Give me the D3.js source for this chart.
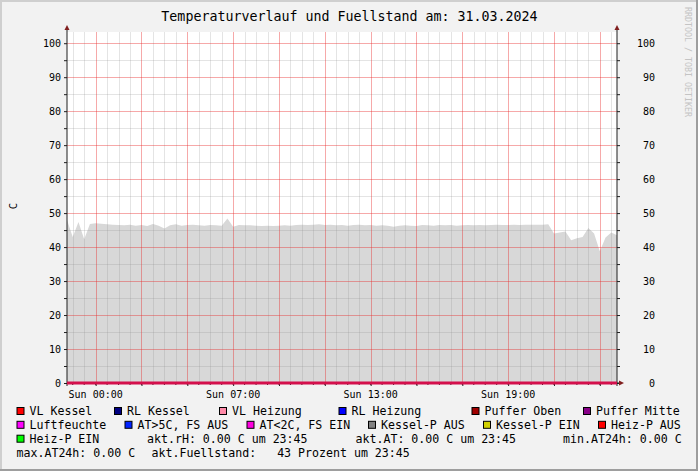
<!DOCTYPE html>
<html>
<head>
<meta charset="utf-8">
<script src="https://cdn.jsdelivr.net/npm/d3@7"></script>
<style>
  html, body { margin: 0; padding: 0; background: #f2f2f2; }
  svg { display: block; font-family: "DejaVu Sans Mono", monospace; }
  .grid line { shape-rendering: crispEdges; }
</style>
</head>
<body>
<svg id="chart"></svg>
<script>
// Fuellstand, one value every 15 minutes (22:45 Sat -> 23:45 Sun, DST day)
const fillLevel = [
  48.0, 43.0, 47.4, 42.3, 46.8, 47.0, 46.9, 46.7, 46.6, 46.5,
  46.4, 46.6, 46.3, 46.5, 46.2, 46.8, 46.3, 45.5, 46.4, 46.7,
  46.3, 46.5, 46.6, 46.4, 46.3, 46.5, 46.4, 46.3, 48.4, 46.0,
  46.5, 46.4, 46.4, 46.3, 46.2, 46.3, 46.2, 46.3, 46.4, 46.3,
  46.5, 46.6, 46.5, 46.6, 46.7, 46.5, 46.6, 46.4, 46.5, 46.3,
  46.5, 46.6, 46.4, 46.5, 46.3, 46.4, 46.3, 46.0, 46.3, 46.4,
  46.3, 46.2, 46.5, 46.4, 46.3, 46.5, 46.4, 46.5, 46.3, 46.4,
  46.5, 46.4, 46.5, 46.4, 46.5, 46.6, 46.5, 46.5, 46.6, 46.5,
  46.6, 46.6, 46.6, 46.6, 46.7, 44.0, 44.3, 44.6, 42.0, 42.6,
  43.0, 45.6, 44.0, 38.8, 42.8, 44.3, 43.5
];
const startTime = new Date("2024-03-30T21:45:00Z");
const endTime = new Date("2024-03-31T21:45:00Z");
const stepMinutes = 15;

// the temperature / pump series all sit at 0 for this day
const zeroLevel = [0, 0];

const xTickTimes = ["2024-03-30T23:00:00Z", "2024-03-31T05:00:00Z", "2024-03-31T11:00:00Z", "2024-03-31T17:00:00Z"];
const xTickLabels = ["Sun 00:00", "Sun 07:00", "Sun 13:00", "Sun 19:00"];
const yTicks = [0, 10, 20, 30, 40, 50, 60, 70, 80, 90, 100];

const seriesNames = ["VL Kessel", "RL Kessel", "VL Heizung", "RL Heizung", "Puffer Oben", "Puffer Mitte",
  "Luftfeuchte", "AT>5C, FS AUS", "AT<2C, FS EIN", "Kessel-P AUS", "Kessel-P EIN", "Heiz-P AUS", "Heiz-P EIN"];
const seriesColors = ["#ff0000", "#000080", "#ff8aa8", "#0000ff", "#a00000", "#880088",
  "#ff00ff", "#0022ff", "#ff00e0", "#808080", "#d0d000", "#ff0000", "#00ff00"];
const statTexts = ["akt.rH: 0.00 C um 23:45", "akt.AT: 0.00 C um 23:45", "min.AT24h: 0.00 C",
  "max.AT24h: 0.00 C", "akt.Fuellstand:   43 Prozent um 23:45"];

const title = "Temperaturverlauf und Fuellstand am: 31.03.2024";

// layout
const W = 698, H = 471;
const plot = { left: 67, right: 617, top: 32, bottom: 383 };
const seriesRow = [0, 0, 0, 0, 0, 0, 1, 1, 1, 1, 1, 1, 2];
const seriesX = [16.5, 114, 219, 338.5, 471.5, 583, 16.5, 124.5, 246.5, 368, 483, 598, 16.5];
const statRow = [2, 2, 2, 3, 3];
const statX = [147, 355.5, 563, 16.5, 151.5];
const rowBase = [415, 428.8, 442.7, 456.6];

const svg = d3.select("#chart").attr("width", W).attr("height", H);

// background + 3d frame
svg.append("rect").attr("width", W).attr("height", H).attr("fill", "#f2f2f2");
svg.append("path").attr("d", `M0,${H} V0 H${W}`).attr("fill", "none").attr("stroke", "#cfcfcf").attr("stroke-width", 4);
svg.append("path").attr("d", `M0,${H} H${W} V0`).attr("fill", "none").attr("stroke", "#9e9e9e").attr("stroke-width", 4);

let x = d3.scaleUtc().domain([startTime, endTime]).range([plot.left, plot.right]);
let y = d3.scaleLinear().domain([0, 103.3]).range([plot.bottom, plot.top]);

svg.append("rect")
  .attr("x", plot.left).attr("y", plot.top)
  .attr("width", plot.right - plot.left).attr("height", plot.bottom - plot.top)
  .attr("fill", "#ffffff");

// area
let area = d3.area()
  .x((d, i) => x(d3.utcMinute.offset(startTime, i * stepMinutes)))
  .y0(y(0))
  .y1(d => y(d));
svg.append("path").datum(fillLevel).attr("d", area).attr("fill", "#d8d8d8");

// grid on top
let grid = svg.append("g").attr("class", "grid");
let minorT = d3.utcMinute.every(30).range(startTime, endTime).filter(t => t > startTime);
let majorT = d3.utcHour.range(startTime, endTime).filter(t => t.getUTCHours() % 2 === 1);
let minorCol = "rgba(143,143,143,0.24)", majorCol = "rgba(232,40,40,0.4)";
grid.selectAll(".vmin").data(minorT.filter(t => t.getUTCMinutes() !== 0 || t.getUTCHours() % 2 === 0)).enter().append("line")
  .attr("x1", d => Math.round(x(d)) + 0.5).attr("x2", d => Math.round(x(d)) + 0.5)
  .attr("y1", plot.top).attr("y2", plot.bottom)
  .attr("stroke", minorCol);
let minorY = d3.range(5, 104, 5).filter(v => v % 10 !== 0);
grid.selectAll(".hmin").data(minorY).enter().append("line")
  .attr("x1", plot.left).attr("x2", plot.right)
  .attr("y1", d => Math.round(y(d)) + 0.5).attr("y2", d => Math.round(y(d)) + 0.5)
  .attr("stroke", minorCol);
grid.selectAll(".vmaj").data(majorT).enter().append("line")
  .attr("x1", d => Math.round(x(d)) + 0.5).attr("x2", d => Math.round(x(d)) + 0.5)
  .attr("y1", plot.top).attr("y2", plot.bottom)
  .attr("stroke", majorCol);
grid.selectAll(".hmaj").data(yTicks.filter(v => v > 0)).enter().append("line")
  .attr("x1", plot.left).attr("x2", plot.right)
  .attr("y1", d => Math.round(y(d)) + 0.5).attr("y2", d => Math.round(y(d)) + 0.5)
  .attr("stroke", majorCol);

// axes
let axisCol = "#1f1f1f", arrowCol = "#801f1f";
let yAxisL = d3.axisLeft(y).tickValues(d3.range(0, 104, 5)).tickSize(3).tickFormat("");
let yAxisR = d3.axisRight(y).tickValues(d3.range(0, 104, 5)).tickSize(3).tickFormat("");
let gL = svg.append("g").attr("transform", `translate(${plot.left},0)`).call(yAxisL);
let gR = svg.append("g").attr("transform", `translate(${plot.right},0)`).call(yAxisR);
[gL, gR].forEach(g => {
  g.select(".domain").remove();
  g.selectAll("line").attr("stroke", axisCol);
  g.append("line").attr("x1", 0).attr("x2", 0).attr("y1", plot.bottom + 3).attr("y2", plot.top - 3)
    .attr("stroke", axisCol);
  g.append("path").attr("d", `M-2.5,${plot.top - 2} L0,${plot.top - 7} L2.5,${plot.top - 2} Z`).attr("fill", arrowCol);
});
let xAxis = d3.axisBottom(x).tickValues(majorT).tickSize(3).tickFormat("");
let gX = svg.append("g").attr("transform", `translate(0,${plot.bottom})`).call(xAxis);
gX.select(".domain").remove();
gX.selectAll("line").attr("stroke", axisCol);
gX.selectAll(".mt").data(minorT).enter().append("line")
  .attr("x1", d => x(d)).attr("x2", d => x(d)).attr("y1", 0).attr("y2", 2).attr("stroke", axisCol);
gX.append("line").attr("x1", plot.left).attr("x2", plot.right + 3).attr("y1", 0).attr("y2", 0).attr("stroke", axisCol);
gX.append("path").attr("d", `M${plot.right + 2},-2.5 L${plot.right + 7},0 L${plot.right + 2},2.5 Z`).attr("fill", arrowCol);

// zero lines drawn over the axis like rrdtool does
svg.append("line")
  .attr("x1", x(startTime)).attr("x2", x(endTime))
  .attr("y1", y(zeroLevel[0])).attr("y2", y(zeroLevel[1]))
  .attr("stroke", "#d4104c").attr("stroke-width", 3);

// tick labels
svg.selectAll(".yl").data(yTicks).enter().append("text")
  .attr("x", 61).attr("y", d => y(d) + 3.8)
  .attr("text-anchor", "end").attr("font-size", "10px").text(d => d);
svg.selectAll(".yr").data(yTicks).enter().append("text")
  .attr("x", 655).attr("y", d => y(d) + 3.8)
  .attr("text-anchor", "end").attr("font-size", "10px").text(d => d);
svg.selectAll(".xl").data(xTickTimes).enter().append("text")
  .attr("x", d => x(new Date(d))).attr("y", 397.7)
  .attr("text-anchor", "middle").attr("font-size", "10px")
  .text((d, i) => xTickLabels[i]);

// title, unit, watermark
svg.append("text").attr("x", 349.5).attr("y", 21).attr("text-anchor", "middle")
  .attr("font-size", "13.3px").text(title);
svg.append("text").attr("transform", "translate(17,206) rotate(-90)").attr("text-anchor", "middle")
  .attr("font-size", "10.5px").text("C");
svg.append("text").attr("transform", "translate(685,7) rotate(90)").attr("text-anchor", "start")
  .attr("font-size", "8.3px").attr("fill", "#c4c4c4").text("RRDTOOL / TOBI OETIKER");

// legend
let leg = svg.append("g").attr("font-size", "11.6px");
seriesNames.forEach((name, i) => {
  let bx = seriesX[i], by = rowBase[seriesRow[i]];
  leg.append("rect").attr("x", bx + 0.5).attr("y", by - 7.5).attr("width", 7).attr("height", 7)
    .attr("fill", seriesColors[i]).attr("stroke", "#000").attr("stroke-width", 1);
  leg.append("text").attr("x", bx + 13).attr("y", by).text(name);
});
statTexts.forEach((t, i) => {
  leg.append("text").attr("x", statX[i]).attr("y", rowBase[statRow[i]]).attr("xml:space", "preserve")
    .style("white-space", "pre").text(t);
});
</script>
</body>
</html>
